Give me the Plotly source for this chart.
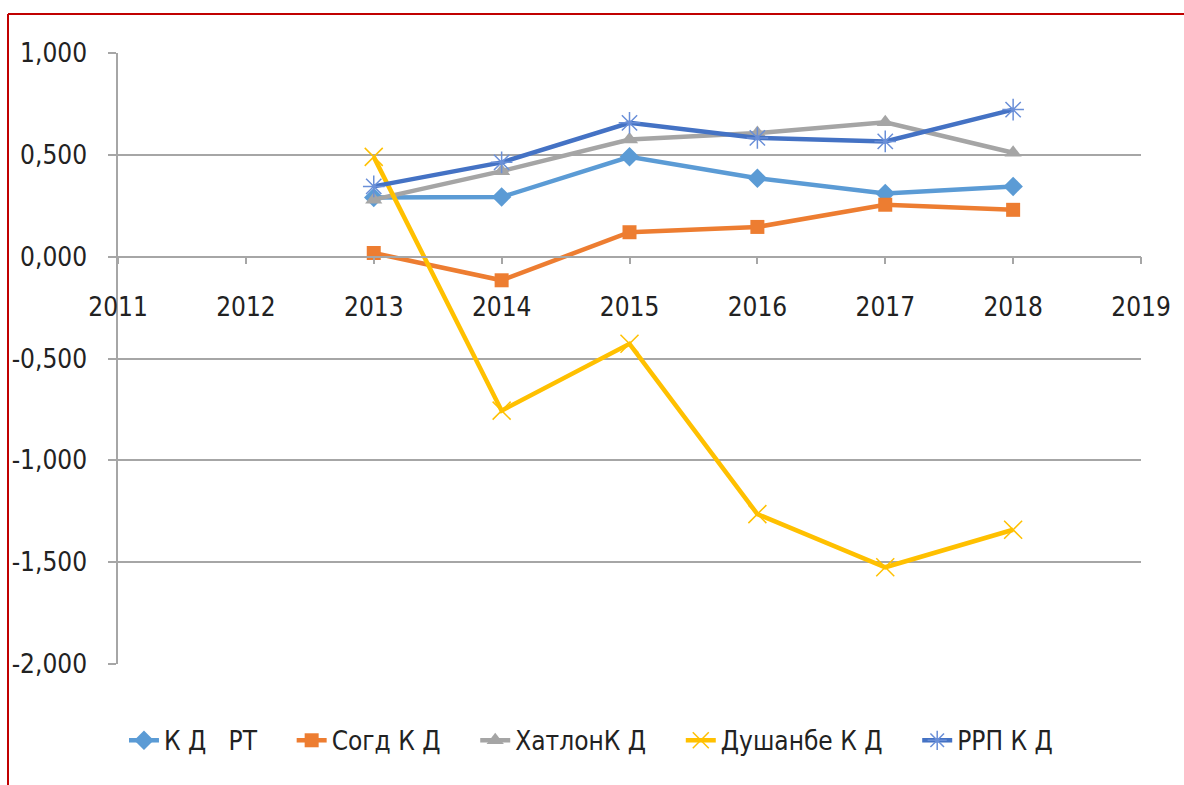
import plotly.graph_objects as go

years = [2013, 2014, 2015, 2016, 2017, 2018]

kd_rt = [0.290, 0.293, 0.490, 0.385, 0.310, 0.345]
sogd = [0.018, -0.116, 0.120, 0.146, 0.255, 0.230]
khatlon = [0.280, 0.420, 0.575, 0.607, 0.660, 0.510]
dushanbe = [0.490, -0.756, -0.428, -1.264, -1.525, -1.341]
rrp = [0.345, 0.463, 0.657, 0.583, 0.566, 0.722]

names = ["К Д\u00a0\u00a0\u00a0РТ", "Согд К Д", "ХатлонК Д", "Душанбе К Д", "РРП К Д"]

y_ticks = [1.0, 0.5, 0.0, -0.5, -1.0, -1.5, -2.0]
y_labels = ["1,000", "0,500", "0,000", "-0,500", "-1,000", "-1,500", "-2,000"]
x_ticks = list(range(2011, 2020))

FONT = "DejaVu Sans Condensed, DejaVu Sans, sans-serif"
PAD = "\u00a0" * 4  # extra room between legend entries

series = [
    (kd_rt, "#5B9BD5", dict(symbol="diamond", size=15, color="#5B9BD5")),
    (sogd, "#ED7D31", dict(symbol="square", size=14, color="#ED7D31")),
    (khatlon, "#A5A5A5", dict(symbol="triangle-up", size=15, color="#A5A5A5")),
    (dushanbe, "#FFC000", dict(symbol="x-thin-open", size=18, color="#FFC000",
                               line=dict(color="#FFC000", width=1.5))),
    (rrp, "#4472C4", dict(symbol="asterisk-open", size=18, color="#6A8FD8",
                          line=dict(color="#6A8FD8", width=1.5))),
]

fig = go.Figure()
for (vals, color, marker), name in zip(series, names):
    fig.add_trace(go.Scatter(
        x=years, y=vals, name=name + PAD, mode="lines+markers",
        line=dict(color=color, width=4.5),
        marker=marker,
    ))

fig.update_layout(
    width=1184, height=785,
    margin=dict(l=118, r=43, t=53, b=121),
    paper_bgcolor="white", plot_bgcolor="white",
    font=dict(family=FONT, size=26, color="#222222"),
    showlegend=True,
    legend=dict(orientation="h", x=0.477, xanchor="center", y=-0.125, yanchor="middle",
                font=dict(family=FONT, size=26, color="#222222"),
                tracegroupgap=0),
    xaxis=dict(
        range=[2011, 2019], tickvals=x_ticks, ticktext=[str(v) for v in x_ticks],
        showgrid=False, zeroline=False,
        showline=True, linecolor="#A6A6A6", linewidth=1.5,
        anchor="free", position=2 / 3,
        ticks="outside", ticklen=7, tickcolor="#A6A6A6", tickwidth=1.5,
        ticklabelstandoff=20,
    ),
    yaxis=dict(
        range=[-2, 1], tickvals=y_ticks, ticktext=y_labels,
        showgrid=True, gridcolor="#A6A6A6", gridwidth=1.5, zeroline=False,
        showline=True, linecolor="#A6A6A6", linewidth=1.5,
        ticks="outside", ticklen=8, tickcolor="#A6A6A6", tickwidth=1.5,
        ticklabelstandoff=16,
    ),
)

# red frame along the top and left edges of the chart area
plot_w = 1184 - 118 - 43
plot_h = 785 - 53 - 121
x_left = (8 - 118) / plot_w
y_top = (664 - 14) / plot_h
y_bottom = (664 - 790) / plot_h
fig.add_shape(type="line", xref="paper", yref="paper", x0=x_left, x1=1.2, y0=y_top, y1=y_top,
              line=dict(color="#C00000", width=2))
fig.add_shape(type="line", xref="paper", yref="paper", x0=x_left, x1=x_left, y0=y_top, y1=y_bottom,
              line=dict(color="#C00000", width=2))

fig.write_html("out.html")
